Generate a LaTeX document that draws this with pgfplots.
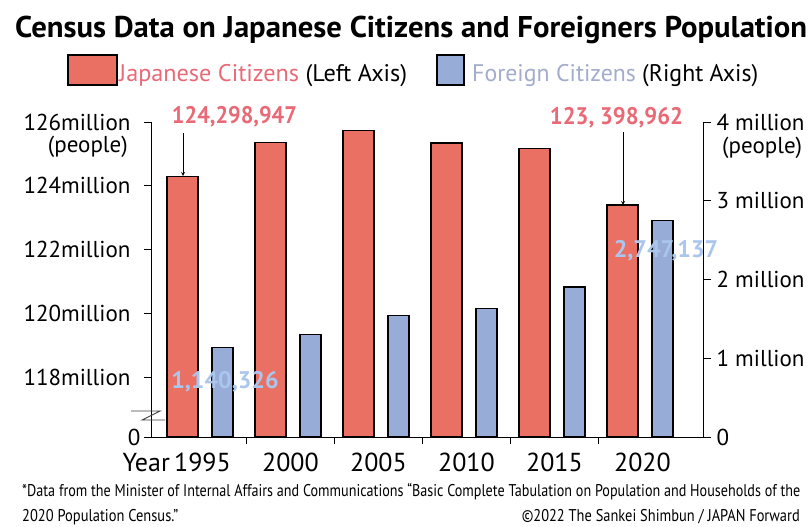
\documentclass[border=0pt]{standalone}
\usepackage{pgfplots}
\pgfplotsset{compat=1.18}
\usepackage{fontspec}
\setmainfont{PT Sans}
\definecolor{jred}{RGB}{233,112,98}
\definecolor{fblue}{RGB}{152,172,216}
\definecolor{jtext}{RGB}{232,106,118}
\definecolor{ftext}{RGB}{162,172,205}
\definecolor{flabel}{RGB}{170,198,236}
\pgfplotstableread{
x jp
0 124.298947
1 125.36
2 125.73
3 125.34
4 125.18
5 123.398962
}\japanese
\pgfplotstableread{
x fr
0 1.140326
1 1.30
2 1.54
3 1.635
4 1.905
5 2.747137
}\foreign
\begin{document}
\begin{tikzpicture}
\useasboundingbox (0,0) rectangle (812pt,-527pt);
\pgfplotsset{
  common/.style={
    at={(152pt,-437pt)}, anchor=south west,
    scale only axis, width=551pt, height=315pt,
    xmin=-0.574, xmax=5.688,
    axis line style={black, line width=1pt},
    tick style={black, line width=1pt},
    tick align=outside,
    major tick length=8pt,
  }
}
\begin{axis}[common,
  axis x line*=bottom, axis y line*=left,
  ymin=116.118, ymax=126,
  ytick={116.118,118,120,122,124,126},
  yticklabels={0\hspace*{-10pt},118million,120million,122million,124million,126million},
  yticklabel style={font=\fontsize{23}{23}\selectfont, xshift=-10pt},
  xtick={0,...,5},
  xticklabels={\makebox[0pt][r]{Year\,}1995,2000,2005,2010,2015,2020},
  xticklabel style={font=\fontsize{26}{26}\selectfont, yshift=-4pt},
  minor xtick={0.5,1.5,...,4.5},
  minor tick length=7pt,
  every major x tick/.style={draw=none},
]
\addplot[ybar, bar width=31pt, bar shift=-20pt, fill=jred, draw=black, line width=1.2pt] table[x=x,y=jp]{\japanese};
\end{axis}
\begin{axis}[common,
  axis x line=none, axis y line*=right,
  ymin=0, ymax=4,
  ytick={0,1,2,3,4},
  yticklabels={0,1 million,2 million,3 million,4 million},
  yticklabel style={font=\fontsize{23}{23}\selectfont, xshift=2pt},
]
\addplot[ybar, bar width=21pt, bar shift=20pt, fill=fblue, draw=black, line width=1.2pt] table[x=x,y=fr]{\foreign};
\end{axis}
% axis break (Z mark)
\draw[line width=0.9pt, black!75] (131pt,-411pt) -- (160pt,-411pt) -- (142pt,-420pt) -- (165pt,-420pt);
% units
\node[anchor=east, inner sep=0] at (128pt,-147pt) {\fontsize{23}{23}\selectfont (people)};
\node[anchor=west, inner sep=0] at (722pt,-148pt) {\fontsize{23}{23}\selectfont (people)};
% title
\node[anchor=base west, inner sep=0] at (15pt,-38pt) {\resizebox{792pt}{\height}{\fontsize{30}{30}\selectfont\bfseries Census Data on Japanese Citizens and Foreigners Population}};
% legend
\filldraw[fill=jred, draw=black, line width=1.2pt] (68pt,-55pt) rectangle (117pt,-85pt);
\node[anchor=base west, inner sep=0] at (119pt,-82pt) {\resizebox{288pt}{\height}{\fontsize{24}{24}\selectfont\textcolor{jtext}{Japanese Citizens} (Left Axis)}};
\filldraw[fill=fblue, draw=black, line width=1.2pt] (437pt,-55pt) rectangle (464pt,-85pt);
\node[anchor=base west, inner sep=0] at (472pt,-82pt) {\resizebox{286pt}{\height}{\fontsize{24}{24}\selectfont\textcolor{ftext}{Foreign Citizens} (Right Axis)}};
% value labels
\node[inner sep=0] at (234.5pt,-117pt) {\resizebox{125pt}{\height}{\fontsize{24}{24}\selectfont\bfseries\color{jtext}124,298,947}};
\node[inner sep=0] at (616.5pt,-117.5pt) {\resizebox{133pt}{\height}{\fontsize{24}{24}\selectfont\bfseries\color{jtext}123, 398,962}};
\draw[line width=0.8pt, -stealth] (183pt,-133pt) -- (183pt,-176pt);
\draw[line width=0.8pt, -stealth] (623pt,-132pt) -- (623pt,-205pt);
\node[inner sep=0] at (225pt,-382pt) {\fontsize{24}{24}\selectfont\bfseries\color{flabel}1,140,326};
\node[inner sep=0] at (666pt,-251pt) {\fontsize{24}{24}\selectfont\bfseries\color{flabel}2,747,137};
% footnote
\node[anchor=base west, inner sep=0] at (22pt,-496pt) {\resizebox{778pt}{\height}{\fontsize{17}{17}\selectfont *Data from the Minister of Internal Affairs and Communications “Basic Complete Tabulation on Population and Households of the}};
\node[anchor=base west, inner sep=0] at (22pt,-521pt) {\resizebox{156pt}{\height}{\fontsize{17}{17}\selectfont 2020 Population Census.”}};
\node[anchor=base east, inner sep=0] at (800pt,-521pt) {\resizebox{278pt}{\height}{\fontsize{17}{17}\selectfont ©2022 The Sankei Shimbun / JAPAN Forward}};
\end{tikzpicture}
\end{document}
